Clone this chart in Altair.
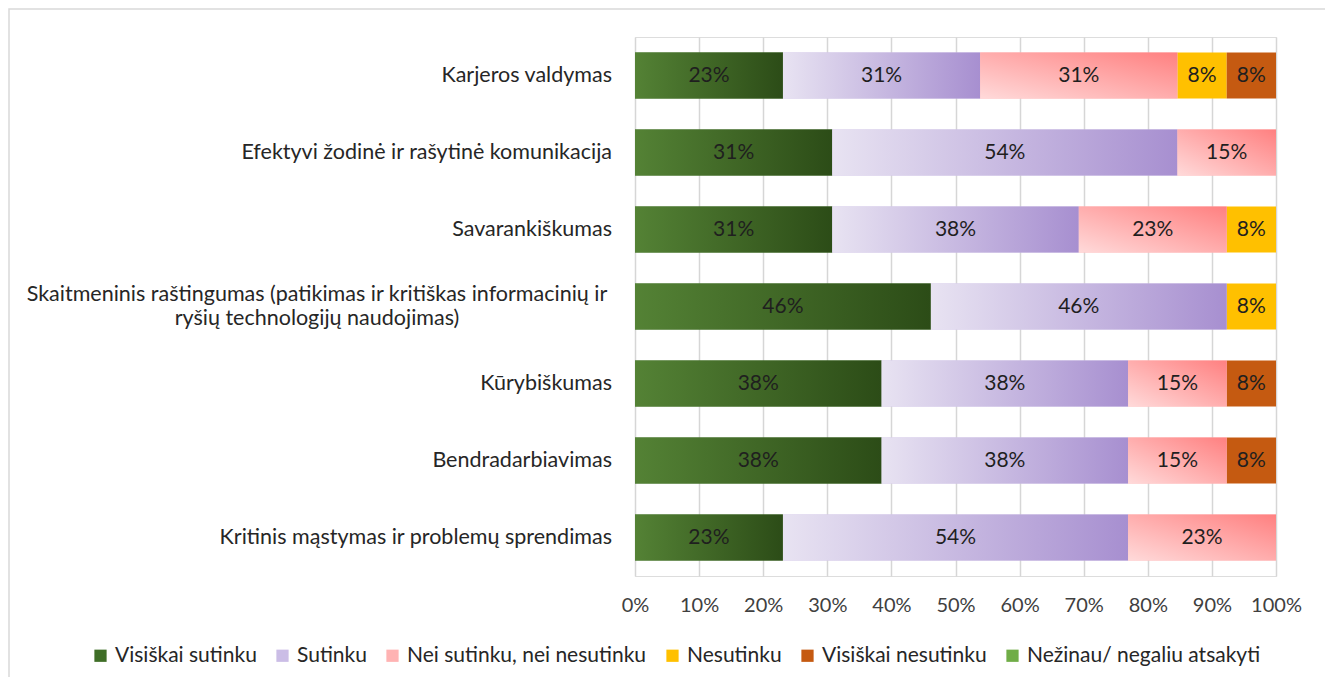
import altair as alt
import pandas as pd

categories = [
    "Karjeros valdymas",
    "Efektyvi žodinė ir rašytinė komunikacija",
    "Savarankiškumas",
    "Skaitmeninis raštingumas (patikimas ir kritiškas informacinių ir\nryšių technologijų naudojimas)",
    "Kūrybiškumas",
    "Bendradarbiavimas",
    "Kritinis mąstymas ir problemų sprendimas",
]
responses = [
    "Visiškai sutinku",
    "Sutinku",
    "Nei sutinku, nei nesutinku",
    "Nesutinku",
    "Visiškai nesutinku",
    "Nežinau/ negaliu atsakyti",
]
visiskai_sutinku = [23.08, 30.77, 30.77, 46.15, 38.46, 38.46, 23.08]
sutinku = [30.77, 53.85, 38.46, 46.15, 38.46, 38.46, 53.85]
nei = [30.77, 15.38, 23.08, 0.0, 15.38, 15.38, 23.08]
nesutinku = [7.69, 0.0, 7.69, 7.69, 0.0, 0.0, 0.0]
visiskai_nesutinku = [7.69, 0.0, 0.0, 0.0, 7.69, 7.69, 0.0]
nezinau = [0.0, 0.0, 0.0, 0.0, 0.0, 0.0, 0.0]
legend_colors = ["#3f6e27", "#cbbde6", "#ffb3b3", "#ffc000", "#c55a11", "#70ad47"]

series = [visiskai_sutinku, sutinku, nei, nesutinku, visiskai_nesutinku, nezinau]
rows = []
for r_i, (resp, vals) in enumerate(zip(responses, series)):
    for cat, v in zip(categories, vals):
        rows.append({"cat": cat, "resp": resp, "order": r_i, "value": v})
df = pd.DataFrame(rows)

FONT = "Lato"
W, H = 641, 539

base = alt.Chart(df).transform_stack(
    stack="value", groupby=["cat"], as_=["v0", "v1"], offset="normalize",
    sort=[alt.SortField("order", order="ascending")]
).transform_calculate(mid="(datum.v0 + datum.v1) / 2")

yenc = alt.Y("cat:N", sort=categories, title=None,
             scale=alt.Scale(paddingInner=0.4, paddingOuter=0.2),
             axis=alt.Axis(labels=False, ticks=False, domain=False, grid=False))
xenc = alt.X("v0:Q", title=None, scale=alt.Scale(domain=[0, 1], nice=False),
             axis=alt.Axis(format=".0%", values=[i / 10 for i in range(11)], grid=True,
                           gridColor="#d6d6d6", gridWidth=1.5, ticks=False, domain=False,
                           labelFontSize=20, labelColor="#404040", labelPadding=19,
                           labelFont=FONT, labelFlush=False, labelOverlap=False,
                           labelAlign="center"))

bars = base.mark_bar().encode(
    y=yenc, x=xenc, x2="v1:Q",
    color=alt.Color("resp:N", scale=alt.Scale(domain=responses, range=legend_colors),
                    legend=alt.Legend(title=None, orient="none", direction="horizontal",
                                      legendX=-545, legendY=608, symbolType="square",
                                      symbolSize=150, symbolStrokeWidth=0,
                                      labelFontSize=21, labelFont=FONT, labelColor="#262626",
                                      labelLimit=0, columnPadding=15, labelOffset=4,
                                      columns=6)),
)

def grad_layer(resp, grad):
    return base.transform_filter(alt.datum.resp == resp).mark_bar(color=grad).encode(
        y=alt.Y("cat:N", sort=categories), x="v0:Q", x2="v1:Q")

green = {"gradient": "linear", "x1": 0, "y1": 0, "x2": 1, "y2": 0,
         "stops": [{"offset": 0, "color": "#548235"}, {"offset": 1, "color": "#2c4c17"}]}
purple = {"gradient": "linear", "x1": 0, "y1": 0, "x2": 1, "y2": 0,
          "stops": [{"offset": 0, "color": "#e8e3f2"}, {"offset": 1, "color": "#a78fd0"}]}
pink = {"gradient": "linear", "x1": 0, "y1": 1, "x2": 1, "y2": 0,
        "stops": [{"offset": 0, "color": "#ffdada"}, {"offset": 1, "color": "#ff8080"}]}

g1 = grad_layer(responses[0], green)
g2 = grad_layer(responses[1], purple)
g3 = grad_layer(responses[2], pink)

labels = base.transform_filter(alt.datum.value > 0).transform_calculate(
    value_pct="datum.value / 100"
).mark_text(
    fontSize=21, font=FONT, color="#1f1f1f", baseline="middle", align="center"
).encode(
    y=alt.Y("cat:N", sort=categories), x="mid:Q",
    text=alt.Text("value_pct:Q", format=".0%"),
)

cat_df = pd.DataFrame({"cat": categories})
long_cat = categories[3]
ylab = alt.Chart(cat_df).transform_filter(alt.datum.cat != long_cat).mark_text(
    align="right", baseline="middle", fontSize=21.5, font=FONT, color="#262626"
).encode(y=alt.Y("cat:N", sort=categories), x=alt.value(-23), text="cat:N")
ylab_long = alt.Chart(cat_df).transform_filter(alt.datum.cat == long_cat).mark_text(
    align="center", baseline="middle", fontSize=21.5, font=FONT, color="#262626",
    lineBreak="\n", lineHeight=24, dy=-12
).encode(y=alt.Y("cat:N", sort=categories), x=alt.value(-318), text="cat:N")

border = alt.Chart(pd.DataFrame({"a": [0]})).mark_rect(
    fill=None, stroke="#d9d9d9", strokeWidth=1.5, clip=False
).encode(x=alt.value(-626), x2=alt.value(694), y=alt.value(-28), y2=alt.value(660))

chart = alt.layer(bars, g1, g2, g3, labels, ylab, ylab_long, border).properties(
    width=W, height=H,
    autosize=alt.AutoSizeParams(type="none"),
    padding={"left": 627, "top": 29, "right": 49, "bottom": 101},
).configure_view(stroke=None).configure(font=FONT)

chart.save("out.html", embed_options={"renderer": "svg", "actions": False})
